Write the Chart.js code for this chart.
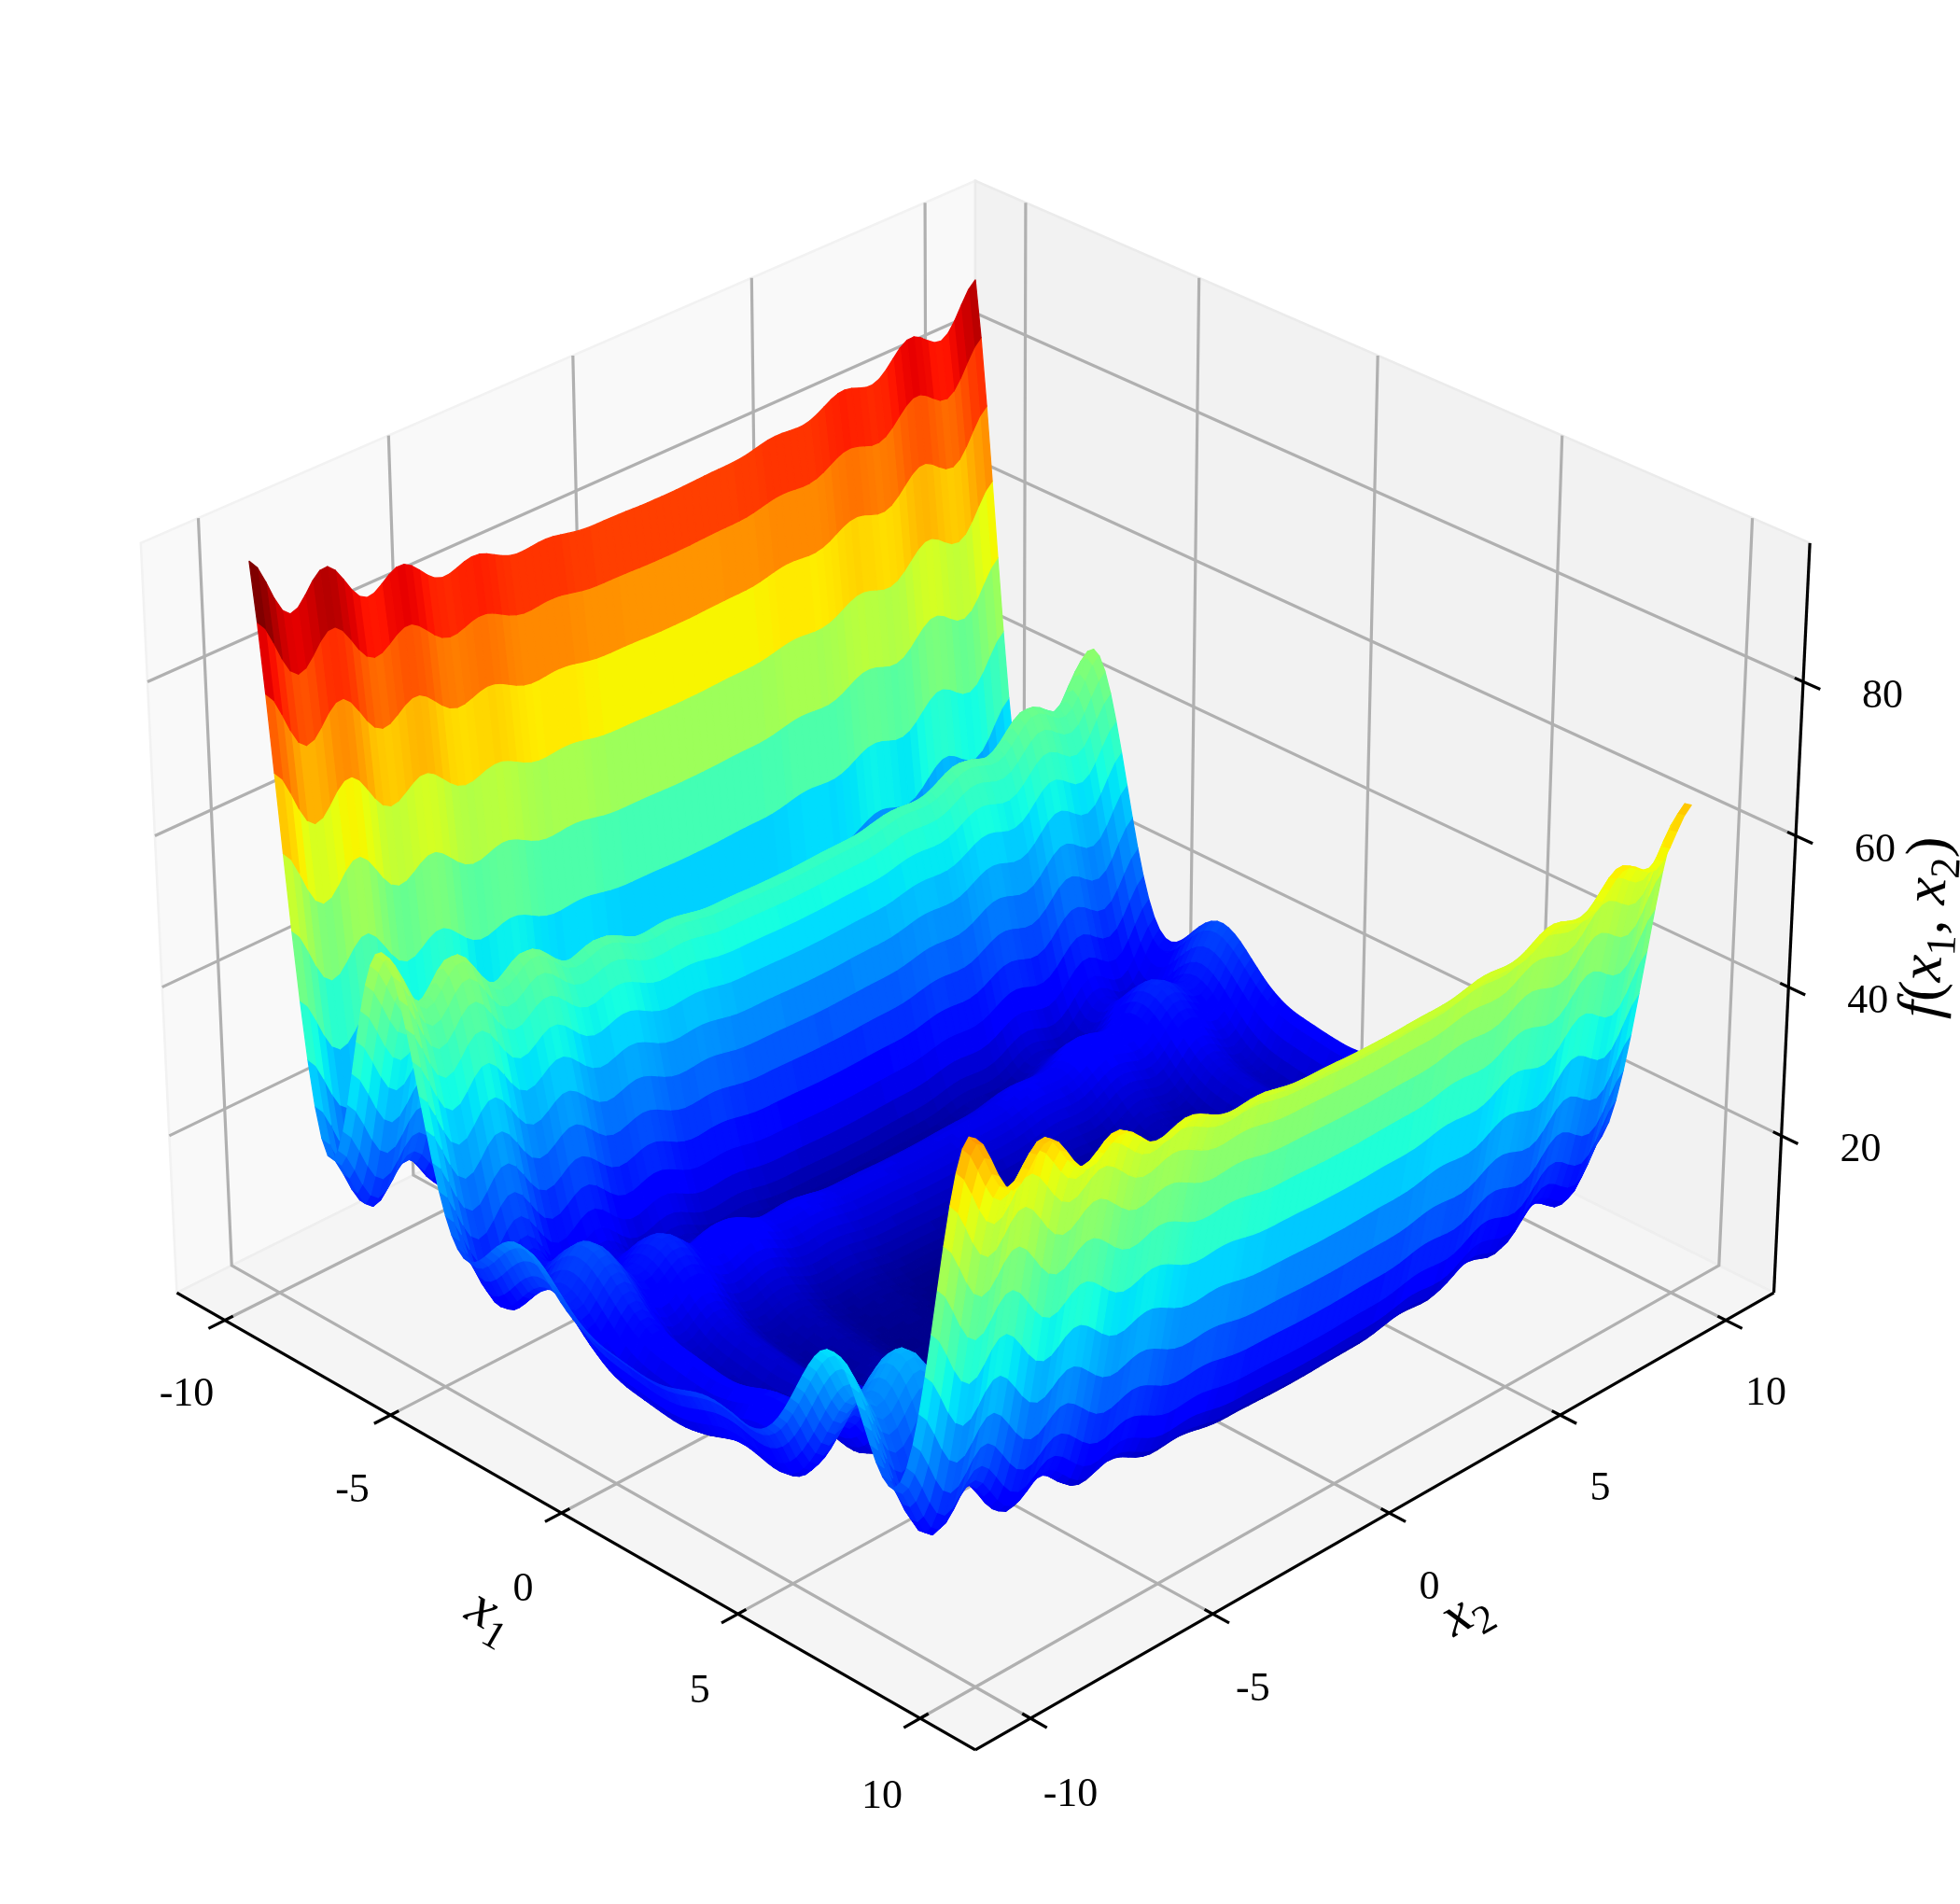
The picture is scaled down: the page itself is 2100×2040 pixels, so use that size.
<!DOCTYPE html>
<html>
<head>
<meta charset="utf-8">
<title>f(x1, x2) surface</title>
<style>
  html, body { margin: 0; padding: 0; background: #ffffff; }
  canvas { display: block; }
</style>
<script src="https://cdn.jsdelivr.net/npm/chart.js@4"></script>
</head>
<body>
<canvas id="chart" width="2100" height="2040"></canvas>
<script>
// ===== DATA =====
// heights along x1, one value every 1/6 from -10 to 10
const x1Profile = [
  80.26, 72.90, 64.03, 54.21, 44.12, 34.36, 25.49, 17.99, 12.17, 8.26, 6.32, 6.25,
  7.86, 10.85, 14.81, 19.37, 24.07, 28.50, 32.32, 35.25, 37.08, 37.72, 37.15, 35.46,
  32.80, 29.38, 25.47, 21.30, 17.15, 13.26, 9.82, 6.96, 4.79, 3.33, 2.57, 2.42,
  2.77, 3.51, 4.47, 5.54, 6.56, 7.43, 8.08, 8.46, 8.54, 8.33, 7.87, 7.22,
  6.43, 5.57, 4.71, 3.88, 3.13, 2.50, 1.98, 1.57, 1.26, 1.03, 0.86, 0.72,
  0.59, 0.46, 0.34, 0.22, 0.11, 0.03, 0.00, 0.04, 0.14, 0.32, 0.55, 0.84,
  1.16, 1.47, 1.74, 1.94, 2.05, 2.07, 1.98, 1.81, 1.59, 1.36, 1.20, 1.17,
  1.32, 1.72, 2.40, 3.41, 4.72, 6.30, 8.08, 9.99, 11.89, 13.67, 15.19, 16.33,
  16.98, 17.07, 16.57, 15.49, 13.92, 11.97, 9.82, 7.67, 5.76, 4.32, 3.59, 3.75,
  4.95, 7.27, 10.68, 15.12, 20.38, 26.23, 32.32, 38.32, 43.80, 48.40, 51.79, 53.67,
  53.89
];
// heights along x2, one value every 0.2 from -10 to 10
// the surface height of a cell is the x1 profile plus the x2 profile
const x2Profile = [
  15.13, 13.88, 11.62, 9.10, 7.12, 6.25, 6.58, 7.75, 9.14, 10.07,
  10.13, 9.22, 7.65, 5.93, 4.60, 4.00, 4.17, 4.86, 5.66, 6.17,
  6.13, 5.50, 4.50, 3.44, 2.63, 2.25, 2.30, 2.64, 3.02, 3.22,
  3.13, 2.74, 2.19, 1.63, 1.21, 1.00, 0.99, 1.09, 1.20, 1.22,
  1.13, 0.93, 0.70, 0.48, 0.33, 0.25, 0.22, 0.22, 0.20, 0.17,
  0.13, 0.08, 0.04, 0.01, 0.00, 0.00, 0.00, 0.01, 0.04, 0.08,
  0.13, 0.17, 0.20, 0.22, 0.22, 0.25, 0.33, 0.48, 0.70, 0.93,
  1.13, 1.22, 1.20, 1.09, 0.99, 1.00, 1.21, 1.63, 2.19, 2.74,
  3.13, 3.22, 3.02, 2.64, 2.30, 2.25, 2.63, 3.44, 4.50, 5.50,
  6.13, 6.17, 5.66, 4.86, 4.17, 4.00, 4.60, 5.93, 7.65, 9.22,
  10.13
];
const x1Ticks = [-10, -5, 0, 5, 10];
const x2Ticks = [-10, -5, 0, 5, 10];
const zTicks = [20, 40, 60, 80];

// jet colormap stops
const jetRed = [[0, 0], [0.35, 0], [0.66, 1], [0.89, 1], [1, 0.5]];
const jetGreen = [[0, 0], [0.125, 0], [0.375, 1], [0.64, 1], [0.91, 0], [1, 0]];
const jetBlue = [[0, 0.5], [0.11, 1], [0.34, 1], [0.65, 0], [1, 0]];

// ===== VIEW =====
const axisLimit = 11.48;
const zMin = -1.5;
const zMax = 97.7;
const boxZ = 0.75;
const camDist = 17;
const elev = 30 * Math.PI / 180;
const azim = -45 * Math.PI / 180;
const originX = 1045;
const originY = 992.3;
const pxPerUnitX = 618.3;
const pxPerUnitY = 618;
const pageW = 2100;
const pageH = 2040;

function project(x1, x2, z) {
  const X = x1 / axisLimit;
  const Y = x2 / axisLimit;
  const Z = (z - (zMin + zMax) / 2) / ((zMax - zMin) / 2) * boxZ;
  const ce = Math.cos(elev), se = Math.sin(elev);
  const ca = Math.cos(azim), sa = Math.sin(azim);
  const u = -sa * X + ca * Y;
  const v = -se * ca * X - se * sa * Y + ce * Z;
  const w = ce * ca * X + ce * sa * Y + se * Z;
  const s = camDist / (camDist - w);
  return { x: u * s, y: v * s, w: w };
}

function jetChannel(stops, t) {
  for (let i = 1; i < stops.length; i++) {
    if (t <= stops[i][0]) {
      const a = stops[i - 1], b = stops[i];
      return a[1] + (b[1] - a[1]) * (t - a[0]) / (b[0] - a[0]);
    }
  }
  return stops[stops.length - 1][1];
}

function jetColor(t) {
  const q = Math.min(255, Math.floor(t * 256)) / 255;
  const r = Math.round(jetChannel(jetRed, q) * 255);
  const g = Math.round(jetChannel(jetGreen, q) * 255);
  const b = Math.round(jetChannel(jetBlue, q) * 255);
  return `rgb(${r},${g},${b})`;
}

// ===== SURFACE TABLE =====
const x1Grid = x1Profile.map((_, i) => -10 + i / 6);
const x2Grid = x2Profile.map((_, j) => -10 + j * 0.2);
const rowSize = x2Grid.length;
const surfacePoints = [];
const heights = [];
const depths = [];

for (let i = 0; i < x1Grid.length; i++) {
  for (let j = 0; j < rowSize; j++) {
    const z = x1Profile[i] + x2Profile[j];
    const p = project(x1Grid[i], x2Grid[j], z);
    surfacePoints.push({ x: p.x, y: p.y });
    heights.push(z);
    depths.push(p.w);
  }
}

const cells = [];
let avgLow = Infinity, avgHigh = -Infinity;
for (let i = 0; i < x1Grid.length - 1; i++) {
  for (let j = 0; j < rowSize - 1; j++) {
    const k = [i * rowSize + j, (i + 1) * rowSize + j, (i + 1) * rowSize + j + 1, i * rowSize + j + 1];
    const avg = (heights[k[0]] + heights[k[1]] + heights[k[2]] + heights[k[3]]) / 4;
    const depth = (depths[k[0]] + depths[k[1]] + depths[k[2]] + depths[k[3]]) / 4;
    avgLow = Math.min(avgLow, avg);
    avgHigh = Math.max(avgHigh, avg);
    cells.push({ k, avg, depth });
  }
}
cells.sort((a, b) => a.depth - b.depth);

// ===== AXIS LINES =====
function path3d(points) {
  return points.map(p => {
    const q = project(p[0], p[1], p[2]);
    return { x: q.x, y: q.y };
  });
}

const L = axisLimit;
const gridLines = [];
x1Ticks.forEach(t => gridLines.push(path3d([[t, -L, zMin], [t, L, zMin], [t, L, zMax]])));
x2Ticks.forEach(t => gridLines.push(path3d([[L, t, zMin], [-L, t, zMin], [-L, t, zMax]])));
zTicks.forEach(t => gridLines.push(path3d([[L, L, t], [-L, L, t], [-L, -L, t]])));

const blackLines = [
  path3d([[-L, -L, zMin], [L, -L, zMin]]),
  path3d([[L, -L, zMin], [L, L, zMin]]),
  path3d([[L, L, zMin], [L, L, zMax]])
];
x1Ticks.forEach(t => blackLines.push(path3d([[t, -L - 0.44, zMin], [t, -L + 0.22, zMin]])));
x2Ticks.forEach(t => blackLines.push(path3d([[L + 0.44, t, zMin], [L - 0.22, t, zMin]])));
zTicks.forEach(t => blackLines.push(path3d([[L + 0.44, L, t], [L - 0.22, L, t]])));

function lineSet(data, color, width) {
  return {
    type: 'line', data, borderColor: color, borderWidth: width,
    pointRadius: 0, tension: 0, fill: false, clip: false, borderJoinStyle: 'miter'
  };
}

// ===== PANES =====
const panes = [
  { fill: '#f9f9f9', edge: '#f2f2f2', corners: [[-L, -L, zMin], [-L, L, zMin], [-L, L, zMax], [-L, -L, zMax]] },
  { fill: '#f2f2f2', edge: '#ebebeb', corners: [[-L, L, zMin], [L, L, zMin], [L, L, zMax], [-L, L, zMax]] },
  { fill: '#f5f5f5', edge: '#eeeeee', corners: [[-L, -L, zMin], [L, -L, zMin], [L, L, zMin], [-L, L, zMin]] }
];

const panePlugin = {
  id: 'panes',
  beforeDatasetsDraw(chart) {
    const { ctx, scales } = chart;
    ctx.save();
    ctx.lineWidth = 2.6;
    panes.forEach(pane => {
      ctx.beginPath();
      path3d(pane.corners).forEach((p, i) => {
        const px = scales.x.getPixelForValue(p.x);
        const py = scales.y.getPixelForValue(p.y);
        if (i === 0) ctx.moveTo(px, py); else ctx.lineTo(px, py);
      });
      ctx.closePath();
      ctx.fillStyle = pane.fill;
      ctx.fill();
      ctx.strokeStyle = pane.edge;
      ctx.stroke();
    });
    ctx.restore();
  }
};

// ===== SURFACE DRAWING =====
const surfacePlugin = {
  id: 'surface',
  afterDatasetsDraw(chart) {
    const { ctx } = chart;
    const els = chart.getDatasetMeta(0).data;
    ctx.save();
    ctx.lineWidth = 1.3;
    ctx.lineJoin = 'round';
    cells.forEach(cell => {
      const color = jetColor((cell.avg - avgLow) / (avgHigh - avgLow));
      ctx.beginPath();
      ctx.moveTo(els[cell.k[0]].x, els[cell.k[0]].y);
      ctx.lineTo(els[cell.k[1]].x, els[cell.k[1]].y);
      ctx.lineTo(els[cell.k[2]].x, els[cell.k[2]].y);
      ctx.lineTo(els[cell.k[3]].x, els[cell.k[3]].y);
      ctx.closePath();
      ctx.fillStyle = color;
      ctx.strokeStyle = color;
      ctx.fill();
      ctx.stroke();
    });
    ctx.restore();
  }
};

// ===== TEXT =====
const serif = '"Liberation Serif", "Times New Roman", serif';
const tickFont = `44px ${serif}`;

// label = list of [text, style], style: i italic, r roman, s subscript
function drawMath(ctx, parts, cx, cy, angle, size) {
  ctx.save();
  ctx.translate(cx, cy);
  ctx.rotate(angle);
  ctx.fillStyle = '#000000';
  ctx.textBaseline = 'alphabetic';
  ctx.textAlign = 'left';
  const fontOf = st => st === 'i' ? `italic ${size}px ${serif}`
    : st === 's' ? `${Math.round(size * 0.7)}px ${serif}` : `${size}px ${serif}`;
  let total = 0;
  parts.forEach(p => { ctx.font = fontOf(p[1]); total += ctx.measureText(p[0]).width; });
  let pos = -total / 2;
  parts.forEach(p => {
    ctx.font = fontOf(p[1]);
    ctx.fillText(p[0], pos, p[1] === 's' ? size * 0.37 : size * 0.15);
    pos += ctx.measureText(p[0]).width;
  });
  ctx.restore();
}

const textPlugin = {
  id: 'labels',
  afterDraw(chart) {
    const { ctx, scales } = chart;
    const at = (a, b, c) => {
      const p = project(a, b, c);
      return [scales.x.getPixelForValue(p.x), scales.y.getPixelForValue(p.y)];
    };
    ctx.save();
    ctx.font = tickFont;
    ctx.fillStyle = '#000000';
    ctx.textAlign = 'center';
    ctx.textBaseline = 'middle';
    x1Ticks.forEach(t => {
      const p = at(t, -L, zMin);
      ctx.fillText(String(t), p[0] - 41, p[1] + 80 + (t + 10) * 0.2);
    });
    x2Ticks.forEach(t => {
      const p = at(L, t, zMin);
      ctx.fillText(String(t), p[0] + 43, p[1] + 82 - (t + 10) * 0.15);
    });
    zTicks.forEach(t => {
      const p = at(L, L, t);
      ctx.fillText(String(t), p[0] + 85, p[1] + 16);
    });
    ctx.restore();
    drawMath(ctx, [['x', 'i'], ['1', 's']], 522, 1737, Math.PI / 6, 62);
    drawMath(ctx, [['x', 'i'], ['2', 's']], 1574, 1734, -Math.PI / 6, 62);
    drawMath(ctx, [['f', 'i'], ['(', 'r'], ['x', 'i'], ['1', 's'], [', ', 'r'], ['x', 'i'], ['2', 's'], [')', 'r']],
      2072, 994, -87 * Math.PI / 180, 64);
  }
};

// ===== CHART =====
const ctx = document.getElementById('chart');

const datasets = [{
  type: 'scatter', data: surfacePoints, pointRadius: 0, showLine: false, clip: false
}];
blackLines.forEach(line => datasets.push(lineSet(line, '#000000', 3.2)));
gridLines.forEach(line => datasets.push(lineSet(line, '#b0b0b0', 3.2)));

new Chart(ctx, {
  type: 'scatter',
  data: { datasets },
  options: {
    responsive: false,
    animation: false,
    events: [],
    layout: { padding: 0 },
    plugins: { legend: { display: false }, tooltip: { enabled: false }, title: { display: false } },
    scales: {
      x: { type: 'linear', display: false, min: -originX / pxPerUnitX, max: (pageW - originX) / pxPerUnitX },
      y: { type: 'linear', display: false, min: (originY - pageH) / pxPerUnitY, max: originY / pxPerUnitY }
    }
  },
  plugins: [panePlugin, surfacePlugin, textPlugin]
});
</script>
</body>
</html>
